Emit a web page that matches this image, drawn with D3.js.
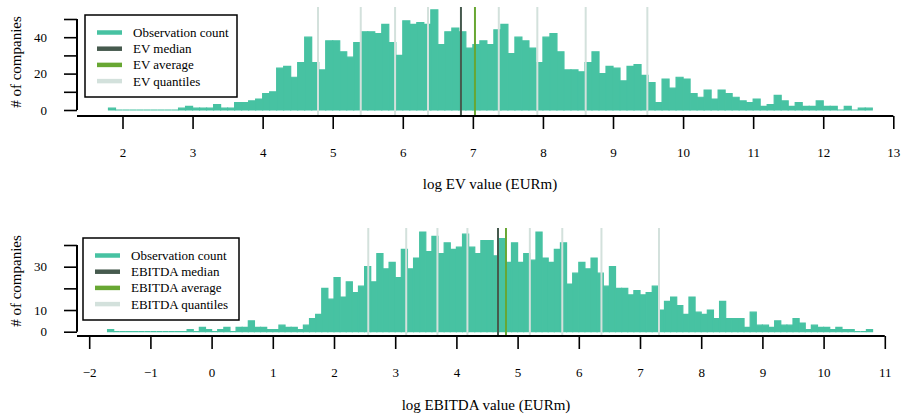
<!DOCTYPE html>
<html>
<head>
<meta charset="utf-8">
<script src="https://cdn.jsdelivr.net/npm/d3@7"></script>
<style>
  body { margin: 0; background: #fff; }
  svg { display: block; }
  text { font-family: "Liberation Serif", "Times New Roman", serif; fill: #000; }
</style>
</head>
<body>
<svg id="chart" width="905" height="419"></svg>
<script>
// ---------------- DATA ----------------
const binWidth = 0.1;

// EV histogram: bins of 0.1 starting at 1.8
const evBinStart = 1.8;
const evCounts = [
  1, 0, 0, 0, 0, 0, 0, 0, 0, 0,
  1, 2, 1, 1, 1, 3, 1, 1, 4, 4,
  5, 6, 9, 10, 23, 24, 18, 26, 40, 26,
  22, 38, 38, 32, 29, 37, 43, 43, 42, 47,
  37, 30, 49, 47, 48, 47, 55, 36, 43, 45,
  43, 34, 36, 38, 36, 44, 47, 31, 40, 38,
  34, 26, 40, 42, 32, 22, 22, 21, 26, 32,
  20, 24, 23, 16, 24, 25, 19, 15, 4, 17,
  12, 18, 17, 9, 7, 11, 6, 11, 9, 7,
  5, 4, 6, 2, 3, 8, 5, 2, 4, 2,
  2, 5, 2, 2, 0, 2, 0, 1, 1
];
const evMedian = 6.83;
const evAverage = 7.03;
const evQuantiles = [4.79, 5.40, 5.89, 6.36, 7.37, 7.92, 8.61, 9.49];
const evXTicks = [2, 3, 4, 5, 6, 7, 8, 9, 10, 11, 12, 13];
const evYTicks = [0, 10, 20, 30, 40, 50];
const evYLabels = [0, 20, 40];

// EBITDA histogram: bins of 0.1 starting at -1.7
const ebBinStart = -1.7;
const ebCounts = [
  1, 0, 0, 0, 0, 0, 0, 0, 0, 0,
  0, 0, 0, 1, 0, 2, 1, 0, 1, 2,
  0, 2, 2, 5, 2, 2, 1, 1, 3, 2,
  2, 1, 3, 6, 8, 20, 15, 25, 16, 23,
  18, 21, 30, 23, 36, 29, 32, 25, 38, 29,
  34, 46, 37, 44, 36, 41, 38, 39, 45, 39,
  36, 42, 42, 35, 43, 32, 41, 32, 36, 33,
  46, 34, 32, 38, 41, 22, 27, 32, 29, 34,
  27, 21, 30, 20, 20, 17, 19, 17, 18, 21,
  10, 14, 16, 12, 8, 16, 9, 8, 10, 6,
  14, 6, 6, 6, 2, 9, 3, 3, 2, 5,
  3, 3, 6, 4, 1, 3, 2, 2, 1, 2,
  1, 1, 0, 0, 1
];
const ebMedian = 4.68;
const ebAverage = 4.81;
const ebQuantiles = [2.56, 3.18, 3.69, 4.18, 5.20, 5.73, 6.37, 7.31];
const ebXTicks = [-2, -1, 0, 1, 2, 3, 4, 5, 6, 7, 8, 9, 10, 11];
const ebYTicks = [0, 10, 20, 30, 40];
const ebYLabels = [0, 10, 30];

const colors = {
  bar: "#47c2a2",
  median: "#465a4e",
  average: "#68a733",
  quant: "#d3e1dc"
};

// ---------------- DRAW ----------------
const svg = d3.select("#chart");

function panel(cfg) {
  const g = svg.append("g");
  const x = d3.scaleLinear().domain(cfg.xDomain).range(cfg.xRange);
  const y = d3.scaleLinear().domain(cfg.yDomain).range(cfg.yRange);

  const bins = cfg.counts.map((c, i) => ({
    x0: +(cfg.binStart + i * binWidth).toFixed(2),
    x1: +(cfg.binStart + (i + 1) * binWidth).toFixed(2),
    c
  }));

  // bars (as closed paths so empty bins still show a thin baseline)
  g.append("g").selectAll("path").data(bins).join("path")
    .attr("d", d => `M${x(d.x0)},${y(0)}V${y(d.c)}H${x(d.x1)}V${y(0)}Z`)
    .attr("fill", colors.bar)
    .attr("stroke", colors.bar)
    .attr("stroke-width", 1.2)
    .attr("stroke-linejoin", "miter");

  // vertical reference lines
  const lineTop = cfg.lineTop, lineBottom = cfg.axisY;
  g.append("g").selectAll("line").data(cfg.quantiles).join("line")
    .attr("x1", d => x(d)).attr("x2", d => x(d))
    .attr("y1", lineTop).attr("y2", lineBottom)
    .attr("stroke", colors.quant).attr("stroke-width", 2);
  g.append("line")
    .attr("x1", x(cfg.median)).attr("x2", x(cfg.median))
    .attr("y1", lineTop).attr("y2", lineBottom)
    .attr("stroke", colors.median).attr("stroke-width", 2);
  g.append("line")
    .attr("x1", x(cfg.average)).attr("x2", x(cfg.average))
    .attr("y1", lineTop).attr("y2", lineBottom)
    .attr("stroke", colors.average).attr("stroke-width", 2);

  // x axis
  const xAxis = d3.axisBottom(x).tickValues(cfg.xTicks).tickSize(13).tickPadding(18.5)
    .tickFormat(d => d < 0 ? "\u2212" + Math.abs(d) : String(d));
  const gx = g.append("g").attr("transform", `translate(0,${cfg.axisY})`).call(xAxis);
  gx.select(".domain").remove();
  gx.append("line")
    .attr("x1", cfg.axisX0).attr("x2", x(cfg.xTicks[cfg.xTicks.length - 1]))
    .attr("y1", 0).attr("y2", 0)
    .attr("stroke", "#000").attr("stroke-width", 2);
  gx.selectAll(".tick line").attr("stroke", "#000").attr("stroke-width", 1.6);
  gx.selectAll(".tick text").style("font-family", "Liberation Serif").style("font-size", "13px");

  // y axis
  const yAxis = d3.axisLeft(y).tickValues(cfg.yTicks).tickSize(13).tickPadding(17)
    .tickFormat(d => cfg.yLabels.includes(d) ? String(d) : "");
  const gy = g.append("g").attr("transform", `translate(${cfg.axisX0},0)`).call(yAxis);
  gy.select(".domain").remove();
  gy.append("line")
    .attr("x1", 0).attr("x2", 0)
    .attr("y1", y(cfg.yTicks[0])).attr("y2", y(cfg.yTicks[cfg.yTicks.length - 1]))
    .attr("stroke", "#000").attr("stroke-width", 2);
  gy.selectAll(".tick line").attr("stroke", "#000").attr("stroke-width", 1.6);
  gy.selectAll(".tick text").style("font-family", "Liberation Serif").style("font-size", "13px");

  // axis titles
  g.append("text")
    .attr("x", cfg.titleX)
    .attr("y", cfg.titleY)
    .attr("text-anchor", "middle")
    .style("font-size", "15px")
    .text(cfg.xTitle);
  g.append("text")
    .attr("transform", `translate(21,${cfg.yTitleCenter}) rotate(-90)`)
    .attr("text-anchor", "middle")
    .style("font-size", "15px")
    .text("# of companies");

  // legend
  const lg = g.append("g").attr("transform", `translate(${cfg.legend[0]},${cfg.legend[1]})`);
  lg.append("rect")
    .attr("x", 0).attr("y", 0).attr("width", cfg.legend[2]).attr("height", 82)
    .attr("fill", "#fff").attr("stroke", "#000").attr("stroke-width", 1.5);
  const items = [
    ["Observation count", colors.bar],
    [cfg.name + " median", colors.median],
    [cfg.name + " average", colors.average],
    [cfg.name + " quantiles", colors.quant]
  ];
  items.forEach((it, i) => {
    const yy = 17.5 + i * 16.2;
    lg.append("line").attr("x1", 12).attr("x2", 37).attr("y1", yy).attr("y2", yy)
      .attr("stroke", it[1]).attr("stroke-width", 4.5);
    lg.append("text").attr("x", 48).attr("y", yy + 4.5)
      .style("font-size", "13px").text(it[0]);
  });
}

panel({
  name: "EV",
  counts: evCounts, binStart: evBinStart,
  median: evMedian, average: evAverage, quantiles: evQuantiles,
  xTicks: evXTicks, yTicks: evYTicks, yLabels: evYLabels,
  xDomain: [2, 13], xRange: [122.5, 893.3],
  yDomain: [0, 50], yRange: [110, 19],
  axisY: 116, axisX0: 77, lineTop: 7,
  titleX: 490, titleY: 189, yTitleCenter: 62,
  xTitle: "log EV value (EURm)",
  legend: [85, 15, 152]
});

panel({
  name: "EBITDA",
  counts: ebCounts, binStart: ebBinStart,
  median: ebMedian, average: ebAverage, quantiles: ebQuantiles,
  xTicks: ebXTicks, yTicks: ebYTicks, yLabels: ebYLabels,
  xDomain: [-2, 11], xRange: [89.2, 884.8],
  yDomain: [0, 40], yRange: [331.7, 245],
  axisY: 336, axisX0: 77, lineTop: 228,
  titleX: 486, titleY: 410, yTitleCenter: 281,
  xTitle: "log EBITDA value (EURm)",
  legend: [83, 238, 156]
});
</script>
</body>
</html>
